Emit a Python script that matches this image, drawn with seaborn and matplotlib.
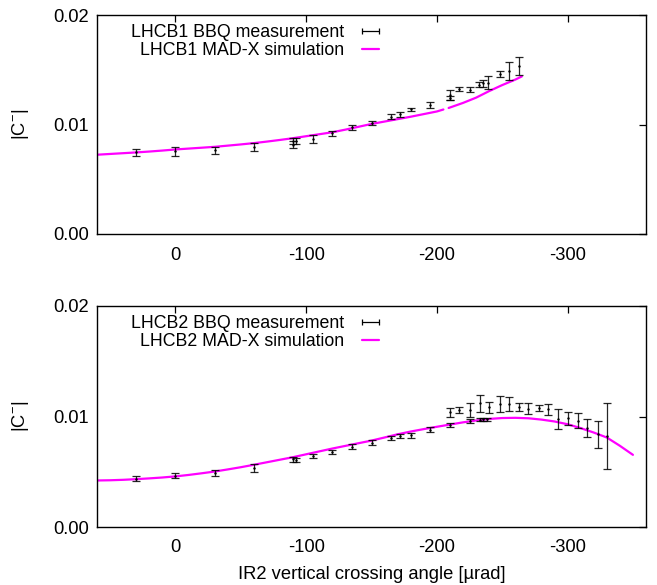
import numpy as np
import pandas as pd
import matplotlib
matplotlib.use("Agg")
import matplotlib.pyplot as plt
import seaborn as sns
from matplotlib.lines import Line2D

# ---------------- data ----------------
# LHCB1 measurement
b1_x = [30, 0, -30, -60, -90, -90, -92, -105, -120, -135, -150, -165, -172, -180,
        -195, -210, -210, -217, -225, -232, -235, -239, -248, -255, -263]
b1_y = [0.00745, 0.00755, 0.00765, 0.00797, 0.00815, 0.00848, 0.00850, 0.00868,
        0.00920, 0.00975, 0.01015, 0.01072, 0.01093, 0.01140, 0.01175, 0.01240,
        0.01270, 0.01327, 0.01318, 0.01365, 0.01375, 0.01380, 0.01460, 0.01490,
        0.01535]
b1_err = [0.00035, 0.00040, 0.00033, 0.00035, 0.00030, 0.00030, 0.00025, 0.00035,
          0.00025, 0.00022, 0.00020, 0.00022, 0.00025, 0.00015, 0.00028, 0.00020,
          0.00045, 0.00020, 0.00020, 0.00025, 0.00030, 0.00060, 0.00030, 0.00080,
          0.00085]
# LHCB1 simulation
b1_sim_x = [60, 50, 40, 30, 20, 10, 0, -10, -20, -30, -40, -50, -60, -70, -80, -90,
            -100, -110, -120, -130, -140, -150, -160, -170, -180, -190, -200, -205,
            -207, -209, -210, -220, -230, -240, -250, -260, -265]
b1_sim_y = [0.00724, 0.00731, 0.00738, 0.00745, 0.00753, 0.00762, 0.00772, 0.00780,
            0.00788, 0.00796, 0.00807, 0.00818, 0.00830, 0.00844, 0.00859, 0.00875,
            0.00893, 0.00911, 0.00929, 0.00953, 0.00979, 0.01005, 0.01027, 0.01049,
            0.01071, 0.01095, 0.01119, 0.01137, np.nan, 0.01151, 0.01155, 0.01197,
            0.01245, 0.01305, 0.01360, 0.01410, 0.01439]

# LHCB2 measurement
b2_x = [30, 0, -30, -60, -90, -92, -105, -120, -135, -150, -165, -172, -180, -195,
        -210, -210, -217, -225, -225, -233, -233, -235, -238, -240, -248, -255,
        -263, -270, -278, -285, -293, -300, -308, -315, -323, -330]
b2_y = [0.00437, 0.00466, 0.00493, 0.00536, 0.00611, 0.00605, 0.00640, 0.00677,
        0.00725, 0.00761, 0.00803, 0.00821, 0.00830, 0.00881, 0.00924, 0.01038,
        0.01059, 0.00956, 0.01059, 0.01119, 0.00972, 0.00975, 0.00975, 0.01083,
        0.01113, 0.01113, 0.01083, 0.01071, 0.01077, 0.01065, 0.00980, 0.00985,
        0.00962, 0.00898, 0.00839, 0.00823]
b2_err = [0.00024, 0.00020, 0.00027, 0.00036, 0.00020, 0.00015, 0.00018, 0.00018,
          0.00022, 0.00022, 0.00020, 0.00020, 0.00022, 0.00020, 0.00018, 0.00042,
          0.00024, 0.00018, 0.00060, 0.00075, 0.00015, 0.00015, 0.00015, 0.00052,
          0.00069, 0.00066, 0.00036, 0.00048, 0.00030, 0.00050, 0.00090, 0.00060,
          0.00066, 0.00080, 0.00123, 0.00296]
# LHCB2 simulation
b2_sim_x = [60, 50, 40, 30, 20, 10, 0, -10, -20, -30, -40, -50, -60, -70, -80, -90,
            -100, -110, -120, -130, -140, -150, -160, -170, -180, -190, -200, -210,
            -220, -230, -240, -250, -260, -270, -280, -290, -300, -310, -320, -330,
            -340, -350]
b2_sim_y = [0.00421, 0.00423, 0.00427, 0.00433, 0.00440, 0.00448, 0.00458, 0.00471,
            0.00486, 0.00502, 0.00521, 0.00541, 0.00563, 0.00586, 0.00609, 0.00632,
            0.00658, 0.00684, 0.00710, 0.00734, 0.00758, 0.00782, 0.00810, 0.00839,
            0.00864, 0.00886, 0.00907, 0.00927, 0.00947, 0.00964, 0.00978, 0.00986,
            0.00988, 0.00984, 0.00972, 0.00955, 0.00930, 0.00895, 0.00855, 0.00810,
            0.00735, 0.00653]

x_ticks = [0, -100, -200, -300]
y_ticks = [0.00, 0.01, 0.02]
labels_meas = ["LHCB1 BBQ measurement", "LHCB2 BBQ measurement"]
labels_sim = ["LHCB1 MAD-X simulation", "LHCB2 MAD-X simulation"]
x_label = "IR2 vertical crossing angle [\u00b5rad]"
y_label = r"|C$^{-}$|"

# ---------------- style ----------------
sns.set_theme(style="white")
plt.rcParams["font.family"] = ["Liberation Sans", "DejaVu Sans"]
plt.rcParams["mathtext.fontset"] = "custom"
plt.rcParams["mathtext.rm"] = "Liberation Sans"
plt.rcParams["text.color"] = "black"
plt.rcParams["axes.labelcolor"] = "black"
FS = 13.2
plt.rcParams["font.size"] = FS

fig = plt.figure(figsize=(6.57, 5.85), dpi=100)
W, H = 657, 585
ax_top = fig.add_axes([97 / W, 1 - 234 / H, 549 / W, 219 / H])
ax_bot = fig.add_axes([97 / W, 1 - 527 / H, 549 / W, 221 / H])

panels = [
    (ax_top, b1_x, b1_y, b1_err, b1_sim_x, b1_sim_y, 0),
    (ax_bot, b2_x, b2_y, b2_err, b2_sim_x, b2_sim_y, 1),
]

for ax, mx, my, me, sx, sy, i in panels:
    sim = pd.DataFrame({"x": sx, "y": sy})
    ax.plot(sim["x"], sim["y"], color="#ff00ff", lw=1.6, zorder=2)
    ax.errorbar(mx, my, yerr=me, fmt="none", ecolor="black", elinewidth=0.9,
                capsize=2.6, capthick=0.9, zorder=3, alpha=0.85)
    meas = pd.DataFrame({"x": mx, "y": my})
    sns.scatterplot(data=meas, x="x", y="y", ax=ax, color="black", s=3,
                    marker="o", linewidth=0, zorder=4)

    ax.set_xlim(60, -360)
    ax.set_ylim(0, 0.02)
    ax.set_xticks(x_ticks)
    ax.set_xticklabels([str(t) for t in x_ticks])
    ax.set_yticks(y_ticks)
    ax.set_yticklabels([f"{t:.2f}" for t in y_ticks])
    ax.tick_params(direction="in", length=5, width=0.9, top=True, right=True,
                   labelsize=FS, pad=9, colors="black")
    ax.tick_params(axis="y", pad=6)
    for s in ax.spines.values():
        s.set_color("black")
        s.set_linewidth(1.0)
    ax.set_xlabel("")
    ax.set_ylabel(y_label, fontsize=FS, labelpad=16, color="black")

    h_meas = Line2D([], [], color="black", lw=0.9, marker="|", ms=5, mew=0.9)
    h_sim = Line2D([], [], color="#ff00ff", lw=1.6)
    leg = ax.legend([h_meas, h_sim], [labels_meas[i], labels_sim[i]],
                    loc="upper right", bbox_to_anchor=(0.545, 1.01), frameon=False,
                    markerfirst=False, numpoints=2, handlelength=1.6,
                    handletextpad=0.7, labelspacing=0.05, fontsize=12.8,
                    borderaxespad=0.25)
    for t in leg.get_texts():
        t.set_color("black")

ax_bot.set_xlabel(x_label, fontsize=FS, labelpad=7, color="black")

fig.savefig("out.png", dpi=100)
